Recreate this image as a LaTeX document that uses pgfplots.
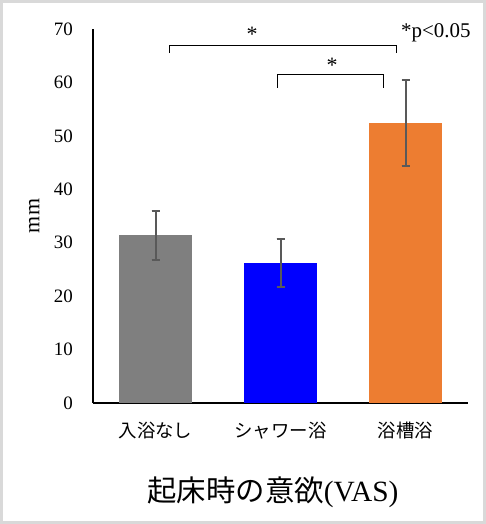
\documentclass[border=0pt]{standalone}
\usepackage{fontspec}
\setmainfont{Liberation Serif}
\newfontfamily\cjk{Noto Sans CJK JP}
\usepackage{pgfplots}
\pgfplotsset{compat=1.18}

\definecolor{barGray}{HTML}{7F7F7F}
\definecolor{barBlue}{HTML}{0000FF}
\definecolor{barOrange}{HTML}{ED7D31}
\definecolor{errGray}{HTML}{595959}
\definecolor{frameGray}{HTML}{D9D9D9}

\begin{document}
\begin{tikzpicture}
\useasboundingbox (0,0) rectangle (486bp,524bp);
\fill[white] (0,0) rectangle (486bp,524bp);
\draw[line width=3bp, color=frameGray] (1.5bp,1.5bp) rectangle (484.5bp,522.5bp);
\begin{axis}[
    at={(93bp,121bp)}, anchor=south west,
    scale only axis, width=375bp, height=374bp,
    axis lines=left,
    axis line style={line width=1.8bp, -},
    xmin=-0.5, xmax=2.5,
    ymin=0, ymax=70,
    ytick={0,10,...,70},
    xtick={0,1,2},
    xticklabels={入浴なし, シャワー浴, 浴槽浴},
    major tick length=0pt,
    /pgf/number format/assume math mode=true,
    yticklabel style={font=\fontsize{19}{19}\selectfont, anchor=east, inner sep=0pt, xshift=-20bp},
    xticklabel style={font=\cjk\fontsize{18.5}{18.5}\selectfont, anchor=center, inner sep=0pt, yshift=-28bp},
    ylabel={mm},
    ylabel style={font=\fontsize{22}{22}\selectfont, at={(axis description cs:-0.157,0.5)}, anchor=center},
    xlabel={{\cjk 起床時の意欲}(VAS)},
    xlabel style={font=\fontsize{29.5}{29.5}\selectfont, at={(axis description cs:0.48,0)}, anchor=center, yshift=-89bp},
    ybar, bar width=0.59, bar shift=0pt,
    clip=false,
    error bars/y dir=both,
    error bars/y explicit,
    error bars/draw error bar/.code 2 args={
        \draw[line width=2bp, color=errGray] #1 -- #2;
        \draw[line width=2bp, color=errGray] #2 ++(-4bp,0) -- ++(8bp,0);
    },
]

\addplot[fill=barGray, draw=none] coordinates {(0,31.4) +- (0,4.6)};
\addplot[fill=barBlue, draw=none] coordinates {(1,26.2) +- (0,4.5)};
\addplot[fill=barOrange, draw=none] coordinates {(2,52.4) +- (0,8.0)};

% significance brackets
\draw[line width=1bp] (axis cs:0.108,65.5) -- (axis cs:0.108,67.0) -- (axis cs:1.924,67.0) -- (axis cs:1.924,65.5);
\draw[line width=1bp] (axis cs:0.972,59.0) -- (axis cs:0.972,61.4) -- (axis cs:1.820,61.4) -- (axis cs:1.820,59.0);
\node[font=\fontsize{22}{22}\selectfont, anchor=base, inner sep=0pt] at (axis cs:0.772,67.7) {*};
\node[font=\fontsize{22}{22}\selectfont, anchor=base, inner sep=0pt] at (axis cs:1.412,61.8) {*};
\node[font=\fontsize{21}{21}\selectfont, anchor=base west, inner sep=0pt] at (axis cs:1.964,68.35) {*p<0.05};
\end{axis}
\end{tikzpicture}
\end{document}
